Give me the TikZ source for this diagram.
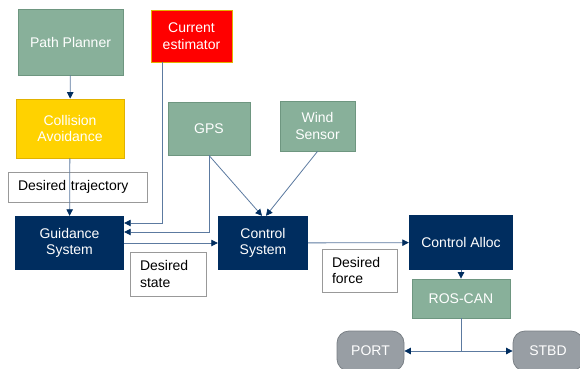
\documentclass[tikz,border=0pt]{standalone}
\usepackage{fontspec}
\setmainfont{Liberation Sans}
\usetikzlibrary{arrows.meta,positioning,calc}
\definecolor{sage}{RGB}{136,176,154}
\definecolor{sageedge}{RGB}{110,150,128}
\definecolor{gold}{RGB}{255,210,0}
\definecolor{goldedge}{RGB}{225,178,0}
\definecolor{navy}{RGB}{0,45,95}
\definecolor{stone}{RGB}{152,158,164}
\definecolor{stoneedge}{RGB}{122,128,134}
\definecolor{wire}{RGB}{92,122,160}

\begin{document}
\begin{tikzpicture}[
  x=1pt,y=-1pt,
  every node/.style={align=center,font=\fontsize{14}{16.5}\selectfont,inner sep=0pt},
  flow/.style={draw=wire,line width=0.8pt,-{Triangle[color=navy,length=6.5pt,width=6.5pt]}},
  module/.style={rectangle,draw=sageedge,fill=sage,text=white,line width=0.8pt},
  core/.style={rectangle,fill=navy,text=white},
  note/.style={rectangle,draw=gray!80,fill=white,line width=0.8pt,align=left,text width=#1,inner xsep=10pt},
  motor/.style={rectangle,rounded corners=12pt,draw=stoneedge,fill=stone,text=white,line width=0.8pt,minimum width=67pt,minimum height=40pt}
]
\useasboundingbox (0,0) rectangle (580,368);
\clip (0,0) rectangle (580,368);
\node[module,minimum width=105pt,minimum height=66pt] (planner) at (70.5,42) {Path Planner};
\node[rectangle,draw=goldedge,fill=gold,text=white,line width=0.8pt,minimum width=108pt,minimum height=59pt] (collision) at (70,128.5) {Collision\\Avoidance};
\node[rectangle,draw=goldedge,fill=red,text=white,line width=0.8pt,minimum width=81pt,minimum height=52pt] (estimator) at (191.5,36) {Current\\estimator};
\node[module,minimum width=82pt,minimum height=53pt] (gps) at (209,128.5) {GPS};
\node[module,minimum width=75pt,minimum height=50pt] (wind) at (317.5,126) {Wind\\Sensor};
\node[note=119pt,minimum height=30pt] (trajnote) at (77.5,187) {Desired trajectory};
\node[core,minimum width=109pt,minimum height=54pt] (guidance) at (69.5,243) {Guidance\\System};
\node[core,minimum width=90pt,minimum height=54pt] (control) at (263,243) {Control\\System};
\node[note=56pt,minimum height=44pt] (statenote) at (168,274) {Desired\\state};
\node[core,minimum width=104pt,minimum height=55pt] (alloc) at (461,242.5) {Control Alloc};
\node[note=55pt,minimum height=43pt] (forcenote) at (359.5,270.5) {Desired\\force};
\node[module,minimum width=98pt,minimum height=39pt] (roscan) at (461,298.5) {ROS-CAN};
\node[motor] (port) at (370.5,351) {PORT};
\node[motor,minimum width=70pt] (stbd) at (548,351) {STBD};
\draw[flow] (planner) -- (collision);
\draw[flow] (collision) -- (guidance);
\draw[flow] ([xshift=-29.5pt]estimator.south) |- ([yshift=20pt]guidance.east);
\draw[flow] (gps.south) |- ([yshift=11pt]guidance.east);
\draw[flow] (gps.south) -- ([xshift=-1pt]control.north);
\draw[flow] (wind.south) -- ([xshift=3pt]control.north);
\draw[flow] (guidance) -- (control);
\draw[flow] (control) -- (alloc);
\draw[flow] (alloc) -- (roscan);
\draw[flow] (roscan.south) |- (port.east);
\draw[flow] (roscan.south) |- (stbd.west);
\end{tikzpicture}
\end{document}
